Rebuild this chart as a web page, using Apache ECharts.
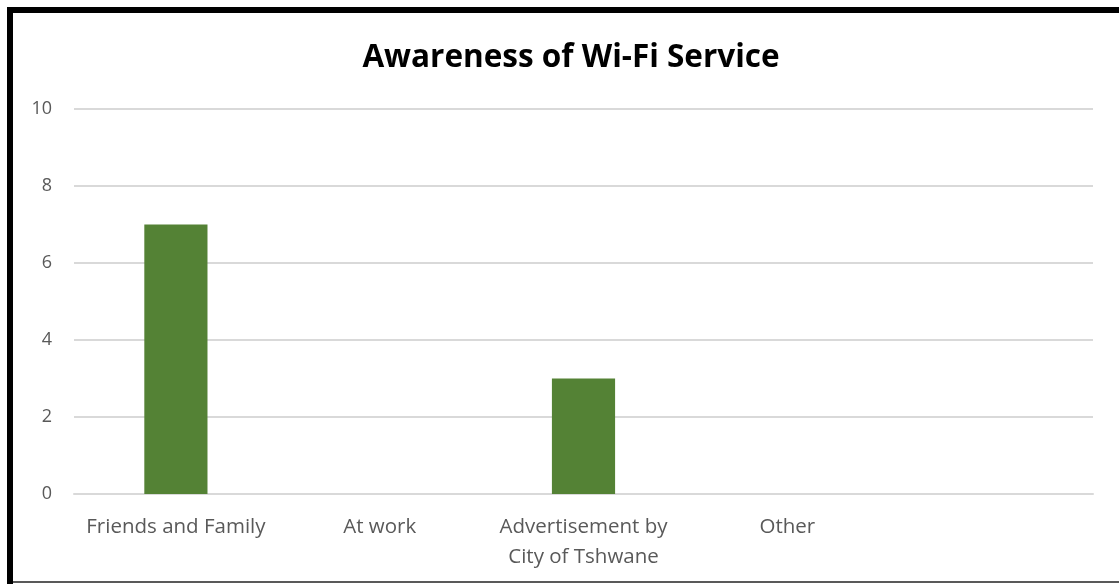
<!DOCTYPE html>
<html>
<head>
<meta charset="utf-8">
<script src="https://cdn.jsdelivr.net/npm/echarts@6/dist/echarts.min.js"></script>
<style>
  html, body { margin: 0; padding: 0; background: #fff; }
  #chart { width: 1119px; height: 584px; }
</style>
</head>
<body>
<div id="chart"></div>
<script>
// Sources through which respondents learned of the Wi-Fi service
const categories = ['Friends and Family', 'At work', 'Advertisement by\nCity of Tshwane', 'Other', ''];
const counts = [7, 0, 3, 0, 0];
const yTicks = { min: 0, max: 10, interval: 2 };

const chart = echarts.init(document.getElementById('chart'));
const font = '"Open Sans", "Liberation Sans", sans-serif';

chart.setOption({
  backgroundColor: '#ffffff',
  animation: false,
  title: {
    text: 'Awareness of Wi-Fi Service',
    left: 566,
    textAlign: 'center',
    top: 37,
    textStyle: { fontFamily: font, fontWeight: 'bold', fontSize: 31.5, color: '#000000' }
  },
  grid: { left: 74, right: 26, top: 109, bottom: 90 },
  xAxis: {
    type: 'category',
    data: categories,
    axisLine: { lineStyle: { color: '#d9d9d9', width: 2 } },
    axisTick: { show: false },
    axisLabel: {
      interval: 0,
      margin: 18,
      fontFamily: font,
      fontSize: 20.5,
      lineHeight: 30,
      color: '#595959'
    }
  },
  yAxis: {
    type: 'value',
    min: yTicks.min,
    max: yTicks.max,
    interval: yTicks.interval,
    axisLine: { show: false },
    axisTick: { show: false },
    axisLabel: { margin: 22, fontFamily: font, fontSize: 18, color: '#595959' },
    splitLine: { lineStyle: { color: '#d9d9d9', width: 2 } }
  },
  series: [{
    type: 'bar',
    data: counts,
    barWidth: '31%',
    itemStyle: { color: '#548235' }
  }],
  graphic: [
    { type: 'rect', shape: { x: 7, y: 7, width: 1112, height: 6 }, style: { fill: '#000000' } },
    { type: 'rect', shape: { x: 7, y: 7, width: 6, height: 577 }, style: { fill: '#000000' } },
    { type: 'rect', shape: { x: 13, y: 581, width: 1106, height: 2 }, style: { fill: '#595959' } }
  ]
});
</script>
</body>
</html>
